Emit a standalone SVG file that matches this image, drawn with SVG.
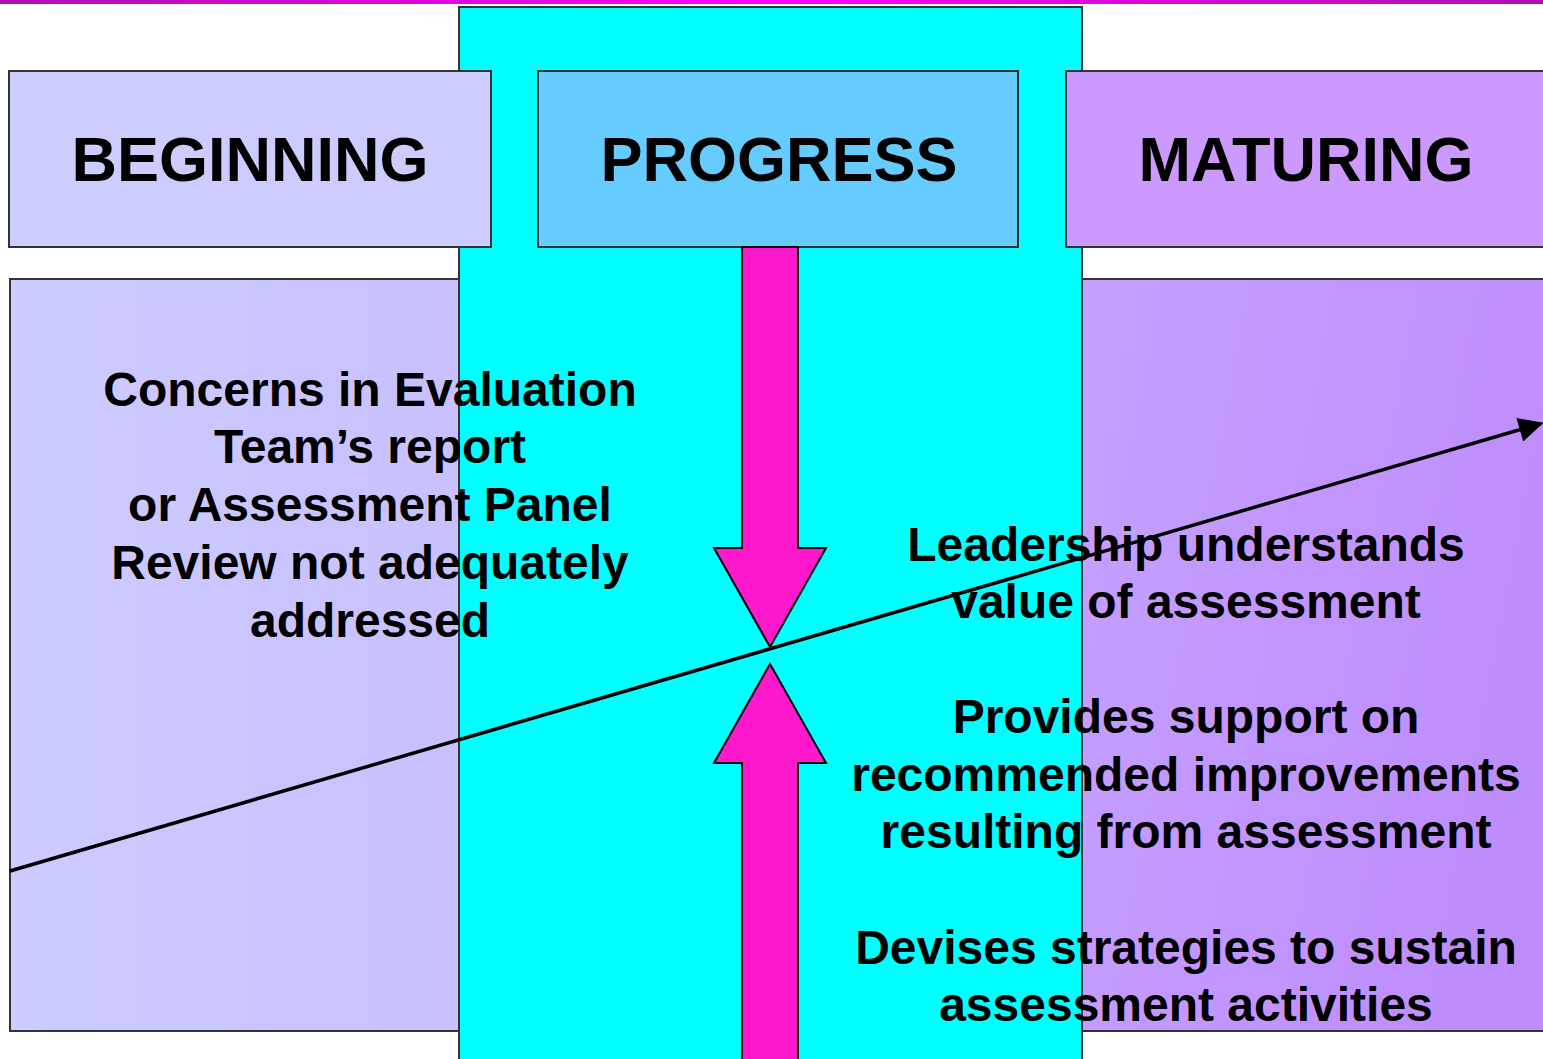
<svg xmlns="http://www.w3.org/2000/svg" width="1543" height="1059" viewBox="0 0 1543 1059">
  <defs>
    <linearGradient id="topBar" x1="0" y1="0" x2="1" y2="0">
      <stop offset="0" stop-color="#b30fb3"/>
      <stop offset="0.5" stop-color="#ff00ff"/>
      <stop offset="1" stop-color="#b30fb3"/>
    </linearGradient>
    <linearGradient id="beginFill" x1="0" y1="0" x2="1" y2="0">
      <stop offset="0" stop-color="#ccccff"/>
      <stop offset="1" stop-color="#c8c0ff"/>
    </linearGradient>
    <linearGradient id="matureFill" x1="0" y1="0" x2="1" y2="0.3">
      <stop offset="0" stop-color="#c6a0ff"/>
      <stop offset="1" stop-color="#be8dfd"/>
    </linearGradient>
    <marker id="arrowHead" viewBox="0 0 10 10" refX="9" refY="5" markerWidth="8" markerHeight="7" markerUnits="strokeWidth" orient="auto">
      <path d="M0,0 L10,5 L0,10 Z" fill="#000"/>
    </marker>
    <style>
      .box { stroke: #333; stroke-width: 2; }
      .head { font-family: "Liberation Sans", Arial, sans-serif; font-weight: bold; font-size: 63px; fill: #000; text-anchor: middle; }
      .body { font-family: "Liberation Sans", Arial, sans-serif; font-weight: bold; font-size: 48px; fill: #000; text-anchor: middle; }
      .pink { fill: #ff19cc; stroke: #000; stroke-width: 2; stroke-linejoin: miter; }
    </style>
  </defs>

  <rect x="0" y="0" width="1543" height="1059" fill="#ffffff"/>
  <rect x="0" y="0" width="1543" height="4" fill="url(#topBar)"/>

  <!-- central progress column -->
  <g id="progress-column">
    <rect class="box" x="459" y="7" width="623" height="1070" fill="#00ffff"/>
  </g>

  <!-- stage headers -->
  <g id="beginning">
    <rect class="box" x="9" y="71" width="482" height="176" fill="#ccccff"/>
    <text class="head" x="250" y="181">BEGINNING</text>
  </g>
  <g id="progress">
    <rect class="box" x="538" y="71" width="480" height="176" fill="#66ccff"/>
    <text class="head" x="779" y="181">PROGRESS</text>
  </g>
  <g id="maturing">
    <rect class="box" x="1066" y="71" width="490" height="176" fill="#cc99ff"/>
    <text class="head" x="1306" y="181">MATURING</text>
  </g>

  <!-- side panels -->
  <g id="beginning-panel">
    <rect class="box" x="10" y="279" width="449" height="752" fill="url(#beginFill)"/>
  </g>
  <g id="maturing-panel">
    <rect class="box" x="1082" y="279" width="480" height="752" fill="url(#matureFill)"/>
  </g>

  <!-- converging arrows -->
  <g id="arrow-down">
    <path class="pink" d="M742,247 L798,247 L798,548 L826,548 L770,647 L714,548 L742,548 Z"/>
  </g>
  <g id="arrow-up">
    <path class="pink" d="M770,664 L826,763 L798,763 L798,1070 L742,1070 L742,763 L714,763 Z"/>
  </g>

  <!-- panel texts -->
  <g id="beginning-text">
    <text class="body" x="370" y="406">Concerns in Evaluation</text>
    <text class="body" x="370" y="463">Team’s report</text>
    <text class="body" x="370" y="521">or Assessment Panel</text>
    <text class="body" x="370" y="579">Review not adequately</text>
    <text class="body" x="370" y="637">addressed</text>
  </g>
  <g id="maturing-text">
    <text class="body" x="1186" y="561">Leadership understands</text>
    <text class="body" x="1186" y="618">value of assessment</text>
    <text class="body" x="1186" y="733">Provides support on</text>
    <text class="body" x="1186" y="791">recommended improvements</text>
    <text class="body" x="1186" y="848">resulting from assessment</text>
    <text class="body" x="1186" y="964">Devises strategies to sustain</text>
    <text class="body" x="1186" y="1021">assessment activities</text>
  </g>

  <!-- trend line -->
  <g id="connectors">
    <line x1="10" y1="871" x2="1541" y2="423.5" stroke="#000" stroke-width="3.5" marker-end="url(#arrowHead)"/>
  </g>
</svg>
